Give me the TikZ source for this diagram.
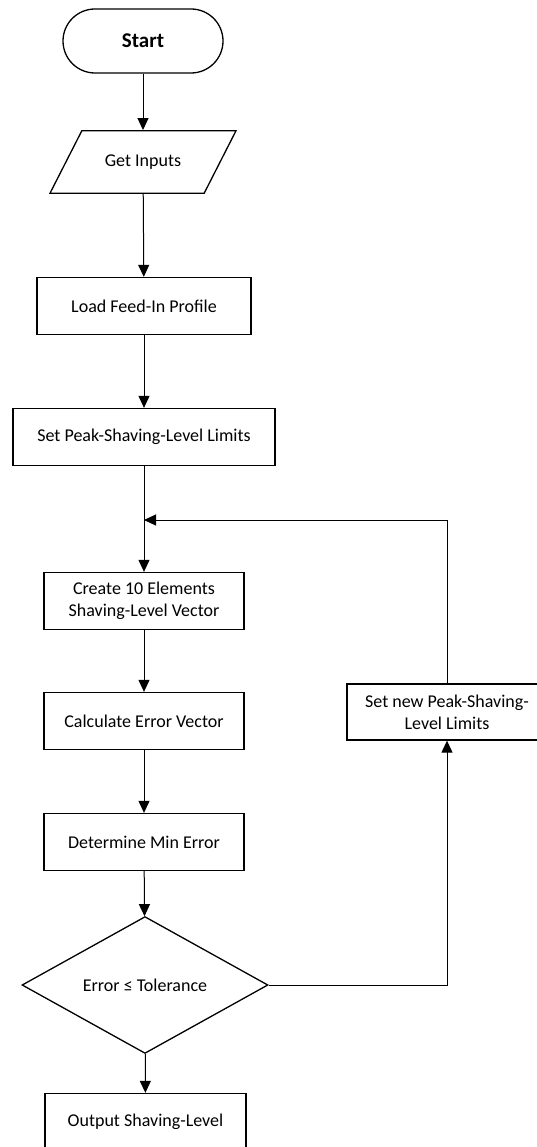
\documentclass[tikz,border=0pt]{standalone}
\usepackage{fontspec}
\setmainfont{Carlito}
\usetikzlibrary{shapes.geometric,arrows.meta}

\begin{document}
\begin{tikzpicture}[x=1pt, y=-1pt,
        every node/.style={draw, line width=1.3pt, align=center, inner sep=2pt,
            font=\fontsize{18}{22}\selectfont},
        box/.style={rectangle, minimum width=200pt, minimum height=57pt},
        arrow/.style={-{Triangle[length=12pt, width=11pt]}, line width=1pt}]
        \useasboundingbox (0,0) rectangle (536,1147);

        % Start and inputs
        \node[rectangle, rounded corners=32pt, minimum width=160pt, minimum height=64pt,
            font=\fontsize{21}{24}\selectfont\bfseries] (start) at (143,41) {Start};
        \node[trapezium, trapezium left angle=63, trapezium right angle=117,
            inner xsep=23pt, inner ysep=24pt] (inputs) at (143,162) {Get Inputs};

        % Preparation steps
        \node[box, minimum width=214pt] (load) at (144,306) {Load Feed-In Profile};
        \node[box, minimum width=262pt] (limits) at (144,437) {Set Peak-Shaving-Level Limits};
        \coordinate (join) at (144,520);

        % Search loop
        \node[box] (create) at (144,601) {Create 10 Elements\\Shaving-Level Vector};
        \node[box] (calc) at (144,721) {Calculate Error Vector};
        \node[box] (minerr) at (144,842) {Determine Min Error};
        \node[diamond, minimum width=246pt, minimum height=94pt, inner sep=0pt] (check) at (145,985) {Error ≤ Tolerance};
        \node[box, minimum height=56pt] (newlim) at (447,712) {Set new Peak-Shaving-\\Level Limits};

        % Result
        \node[box, minimum width=201pt] (output) at (145.5,1122) {Output Shaving-Level};

        % Main flow
        \draw[arrow] (start) -- (inputs);
        \draw[arrow] (inputs) -- (load);
        \draw[arrow] (load) -- (limits);
        \draw[arrow] (limits) -- (create);
        \draw[arrow] (create) -- (calc);
        \draw[arrow] (calc) -- (minerr);
        \draw[arrow] (minerr) -- (check);
        \draw[arrow] (check) -- (output);

        % Back to the vector step
        \draw[arrow] (check.east) -| (newlim.south);
        \draw[arrow] (newlim.north) |- (join);
    \end{tikzpicture}
\end{document}
